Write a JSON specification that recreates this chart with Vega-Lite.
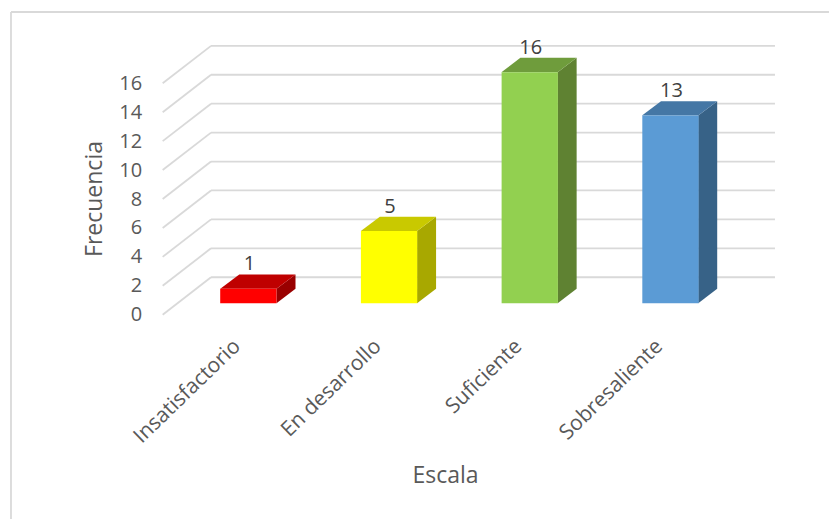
{
  "$schema": "https://vega.github.io/schema/vega-lite/v6.json",
  "width": 818,
  "height": 507,
  "autosize": "none",
  "padding": {"left": 11, "top": 12, "right": 0, "bottom": 0},
  "background": "white",
  "config": {"view": {"stroke": null}, "font": "Open Sans"},
  "datasets": {
    "frecuencias": [
      {"categoria": "Insatisfactorio", "frecuencia": 1},
      {"categoria": "En desarrollo", "frecuencia": 5},
      {"categoria": "Suficiente", "frecuencia": 16},
      {"categoria": "Sobresaliente", "frecuencia": 13}
    ],
    "rejilla": [
      {"valor": "marco", "x1": -1.489, "x2": 4.33, "y1": 20.93, "y2": 20.93},
      {"valor": "marco", "x1": -1.489, "x2": -1.489, "y1": 20.93, "y2": -14.13},
      {"valor": 0, "x1": -0.41, "x2": -0.066, "y1": 0, "y2": 2.59},
      {"valor": 2, "x1": -0.41, "x2": -0.066, "y1": 2, "y2": 4.59},
      {"valor": 4, "x1": -0.41, "x2": -0.066, "y1": 4, "y2": 6.59},
      {"valor": 6, "x1": -0.41, "x2": -0.066, "y1": 6, "y2": 8.59},
      {"valor": 8, "x1": -0.41, "x2": -0.066, "y1": 8, "y2": 10.59},
      {"valor": 10, "x1": -0.41, "x2": -0.066, "y1": 10, "y2": 12.59},
      {"valor": 12, "x1": -0.41, "x2": -0.066, "y1": 12, "y2": 14.59},
      {"valor": 14, "x1": -0.41, "x2": -0.066, "y1": 14, "y2": 16.59},
      {"valor": 16, "x1": -0.41, "x2": -0.066, "y1": 16, "y2": 18.59},
      {"valor": 0, "x1": -0.066, "x2": 3.946, "y1": 2.59, "y2": 2.59},
      {"valor": 2, "x1": -0.066, "x2": 3.946, "y1": 4.59, "y2": 4.59},
      {"valor": 4, "x1": -0.066, "x2": 3.946, "y1": 6.59, "y2": 6.59},
      {"valor": 6, "x1": -0.066, "x2": 3.946, "y1": 8.59, "y2": 8.59},
      {"valor": 8, "x1": -0.066, "x2": 3.946, "y1": 10.59, "y2": 10.59},
      {"valor": 10, "x1": -0.066, "x2": 3.946, "y1": 12.59, "y2": 12.59},
      {"valor": 12, "x1": -0.066, "x2": 3.946, "y1": 14.59, "y2": 14.59},
      {"valor": 14, "x1": -0.066, "x2": 3.946, "y1": 16.59, "y2": 16.59},
      {"valor": 16, "x1": -0.066, "x2": 3.946, "y1": 18.59, "y2": 18.59}
    ],
    "caras": [
      {"cara": "Insatisfactorio lateral", "x": 0.4, "y": 1, "y0": 0},
      {"cara": "Insatisfactorio lateral", "x": 0.535, "y": 2, "y0": 1},
      {"cara": "Insatisfactorio superior", "x": 0, "y": 1, "y0": 1},
      {"cara": "Insatisfactorio superior", "x": 0.135, "y": 2, "y0": 1},
      {"cara": "Insatisfactorio superior", "x": 0.4, "y": 2, "y0": 1},
      {"cara": "Insatisfactorio superior", "x": 0.535, "y": 2, "y0": 2},
      {"cara": "En desarrollo lateral", "x": 1.4, "y": 5, "y0": 0},
      {"cara": "En desarrollo lateral", "x": 1.535, "y": 6, "y0": 1},
      {"cara": "En desarrollo superior", "x": 1, "y": 5, "y0": 5},
      {"cara": "En desarrollo superior", "x": 1.135, "y": 6, "y0": 5},
      {"cara": "En desarrollo superior", "x": 1.4, "y": 6, "y0": 5},
      {"cara": "En desarrollo superior", "x": 1.535, "y": 6, "y0": 6},
      {"cara": "Suficiente lateral", "x": 2.4, "y": 16, "y0": 0},
      {"cara": "Suficiente lateral", "x": 2.535, "y": 17, "y0": 1},
      {"cara": "Suficiente superior", "x": 2, "y": 16, "y0": 16},
      {"cara": "Suficiente superior", "x": 2.135, "y": 17, "y0": 16},
      {"cara": "Suficiente superior", "x": 2.4, "y": 17, "y0": 16},
      {"cara": "Suficiente superior", "x": 2.535, "y": 17, "y0": 17},
      {"cara": "Sobresaliente lateral", "x": 3.4, "y": 13, "y0": 0},
      {"cara": "Sobresaliente lateral", "x": 3.535, "y": 14, "y0": 1},
      {"cara": "Sobresaliente superior", "x": 3, "y": 13, "y0": 13},
      {"cara": "Sobresaliente superior", "x": 3.135, "y": 14, "y0": 13},
      {"cara": "Sobresaliente superior", "x": 3.4, "y": 14, "y0": 13},
      {"cara": "Sobresaliente superior", "x": 3.535, "y": 14, "y0": 14}
    ]
  },
  "layer": [
    {
      "data": {"name": "rejilla"},
      "mark": {"type": "rule", "color": "#D9D9D9", "strokeWidth": 1.8},
      "encoding": {
        "x": {"field": "x1", "type": "quantitative", "scale": {"domain": [0, 3], "range": [209.3, 631], "nice": false, "zero": false}, "axis": null},
        "x2": {"field": "x2"},
        "y": {
          "field": "y1", "type": "quantitative",
          "scale": {"domain": [0, 16], "range": [302.7, 71.3], "nice": false, "zero": false},
          "axis": {
            "orient": "left", "offset": -130.7, "values": [0, 2, 4, 6, 8, 10, 12, 14, 16],
            "domain": false, "ticks": false, "grid": false, "labelPadding": 0,
            "labelFontSize": 20, "labelColor": "#595959", "labelOverlap": false, "labelBound": false, "labelFlush": false,
            "title": "Frecuencia", "titleFontSize": 23, "titleFontWeight": "normal", "titleColor": "#595959",
            "titleX": -47.7, "titleY": 186.5, "titleAngle": -90, "titleAlign": "center", "titleBaseline": "middle"
          }
        },
        "y2": {"field": "y2"}
      }
    },
    {
      "data": {"name": "caras"},
      "mark": {"type": "area", "orient": "vertical", "interpolate": "linear"},
      "encoding": {
        "x": {"field": "x", "type": "quantitative", "scale": {"domain": [0, 3], "range": [209.3, 631], "nice": false, "zero": false}, "axis": null},
        "y": {"field": "y", "type": "quantitative", "stack": null, "scale": {"domain": [0, 16], "range": [291.3, 60.3], "nice": false, "zero": false}, "axis": null},
        "y2": {"field": "y0"},
        "color": {
          "field": "cara", "type": "nominal", "legend": null,
          "scale": {
            "domain": ["Insatisfactorio lateral", "Insatisfactorio superior", "En desarrollo lateral", "En desarrollo superior", "Suficiente lateral", "Suficiente superior", "Sobresaliente lateral", "Sobresaliente superior"],
            "range": ["#990000", "#BF0000", "#A8A800", "#C9C900", "#5F8232", "#6F9C3C", "#376287", "#4577A5"]
          }
        }
      }
    },
    {
      "data": {"name": "frecuencias"},
      "mark": {"type": "bar"},
      "encoding": {
        "x": {
          "field": "categoria", "type": "nominal", "sort": null,
          "scale": {"domain": ["Insatisfactorio", "En desarrollo", "Suficiente", "Sobresaliente"], "range": [167, 729.8], "paddingInner": 0.6, "paddingOuter": 0.3},
          "axis": {
            "orient": "bottom", "offset": -176, "domain": false, "ticks": false, "grid": false, "labelPadding": 0, "labelOffset": -11,
            "labelAngle": -44, "labelAlign": "right", "labelBaseline": "middle",
            "labelFontSize": 21, "labelColor": "#595959", "labelOverlap": false, "labelBound": false, "labelFlush": false, "labelLimit": 300,
            "title": "Escala", "titleFontSize": 23, "titleFontWeight": "normal", "titleColor": "#595959",
            "titleX": 434, "titleY": 132, "titleAlign": "center", "titleBaseline": "middle"
          }
        },
        "y": {"field": "frecuencia", "type": "quantitative", "scale": {"domain": [0, 16], "range": [291.3, 60.3], "nice": false, "zero": false}, "axis": null},
        "color": {
          "field": "categoria", "type": "nominal", "legend": null,
          "scale": {"domain": ["Insatisfactorio", "En desarrollo", "Suficiente", "Sobresaliente"], "range": ["#FF0000", "#FFFF00", "#92D050", "#5B9BD5"]}
        }
      }
    },
    {
      "data": {"name": "frecuencias"},
      "mark": {"type": "text", "dy": -24.5, "dx": 1, "fontSize": 20, "color": "#404040", "baseline": "middle", "align": "center"},
      "encoding": {
        "x": {
          "field": "categoria", "type": "nominal", "sort": null,
          "scale": {"domain": ["Insatisfactorio", "En desarrollo", "Suficiente", "Sobresaliente"], "range": [167, 729.8], "paddingInner": 0.6, "paddingOuter": 0.3},
          "axis": null
        },
        "y": {"field": "frecuencia", "type": "quantitative", "scale": {"domain": [0, 16], "range": [291.3, 60.3], "nice": false, "zero": false}, "axis": null},
        "text": {"field": "frecuencia", "type": "quantitative"}
      }
    }
  ],
  "resolve": {"scale": {"x": "independent", "y": "independent", "color": "independent"}, "axis": {"x": "independent", "y": "independent"}}
}
